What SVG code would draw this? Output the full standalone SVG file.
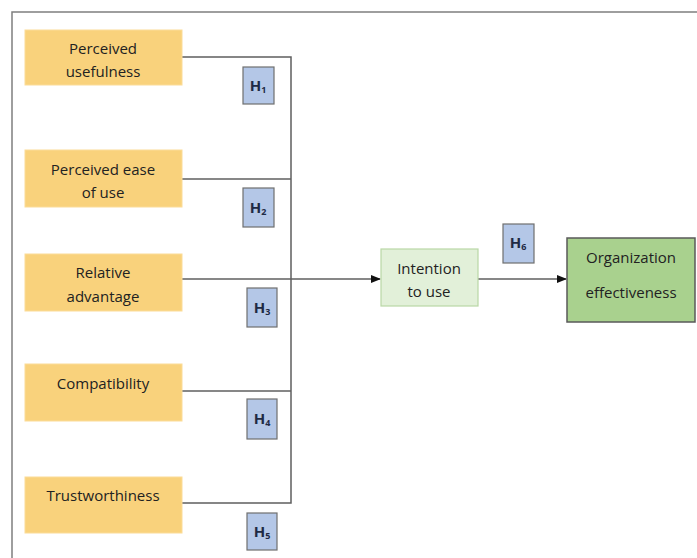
<svg xmlns="http://www.w3.org/2000/svg" width="697" height="558" viewBox="0 0 697 558">
<style>
.frame{fill:none;stroke:#7f7f7f;stroke-width:1.5}
.ob{fill:#F9D27C;stroke:#FBDC98;stroke-width:1}
.hb{fill:#B4C7E7;stroke:#6f6f6f;stroke-width:1.2}
.ib{fill:#E2F0D9;stroke:#B9D7A6;stroke-width:1.2}
.eb{fill:#A9D18E;stroke:#5a5a5a;stroke-width:1.5}
.t{font-family:"Open Sans","Liberation Sans",sans-serif;font-size:15px;fill:#222;text-anchor:middle}
.h{font-family:"Open Sans","Liberation Sans",sans-serif;font-size:15px;font-weight:bold;fill:#1f2a44;text-anchor:middle}
.ln{fill:none;stroke:#5f5f5f;stroke-width:1.5}
</style>
<defs>
<marker id="ah" markerWidth="10" markerHeight="8" refX="9" refY="4" orient="auto" markerUnits="userSpaceOnUse">
<path d="M0,0 L10,4 L0,8 Z" fill="#111"/>
</marker>
</defs>
<rect width="697" height="558" fill="#fff"/>
<path class="frame" d="M12,558 V12 H697"/>
<g id="connectors">
<path class="ln" d="M182,57 H291 V503 H182"/>
<path class="ln" d="M182,179 H291"/>
<path class="ln" d="M182,391 H291"/>
<path class="ln" d="M182,279 H380" marker-end="url(#ah)"/>
<path class="ln" d="M478,279 H566" marker-end="url(#ah)"/>
</g>
<g id="n1"><rect class="ob" x="25" y="30" width="157" height="55"/><text class="t" x="103" y="54">Perceived</text><text class="t" x="103" y="77">usefulness</text></g>
<g id="n2"><rect class="ob" x="25" y="150" width="157" height="57"/><text class="t" x="103" y="175">Perceived ease</text><text class="t" x="103" y="198">of use</text></g>
<g id="n3"><rect class="ob" x="25" y="254" width="157" height="57"/><text class="t" x="103" y="278">Relative</text><text class="t" x="103" y="302">advantage</text></g>
<g id="n4"><rect class="ob" x="25" y="364" width="157" height="57"/><text class="t" x="103" y="389">Compatibility</text></g>
<g id="n5"><rect class="ob" x="25" y="477" width="157" height="56"/><text class="t" x="103" y="501">Trustworthiness</text></g>
<g id="n6"><rect class="ib" x="381" y="249" width="97" height="57"/><text class="t" x="429" y="274">Intention</text><text class="t" x="429" y="297">to use</text></g>
<g id="n7"><rect class="eb" x="567" y="238" width="128" height="84"/><text class="t" x="631" y="263">Organization</text><text class="t" x="631" y="298">effectiveness</text></g>
<g id="h1"><rect class="hb" x="243" y="67" width="31" height="37"/><text class="h" x="258" y="91">H<tspan font-size="9" dy="2">1</tspan></text></g>
<g id="h2"><rect class="hb" x="243" y="188" width="31" height="39"/><text class="h" x="258" y="213">H<tspan font-size="9" dy="2">2</tspan></text></g>
<g id="h3"><rect class="hb" x="247" y="288" width="30" height="39"/><text class="h" x="262" y="313">H<tspan font-size="9" dy="2">3</tspan></text></g>
<g id="h4"><rect class="hb" x="247" y="399" width="30" height="40"/><text class="h" x="262" y="424">H<tspan font-size="9" dy="2">4</tspan></text></g>
<g id="h5"><rect class="hb" x="247" y="513" width="30" height="37"/><text class="h" x="262" y="537">H<tspan font-size="9" dy="2">5</tspan></text></g>
<g id="h6"><rect class="hb" x="503" y="224" width="31" height="39"/><text class="h" x="518" y="248">H<tspan font-size="9" dy="2">6</tspan></text></g>
</svg>
